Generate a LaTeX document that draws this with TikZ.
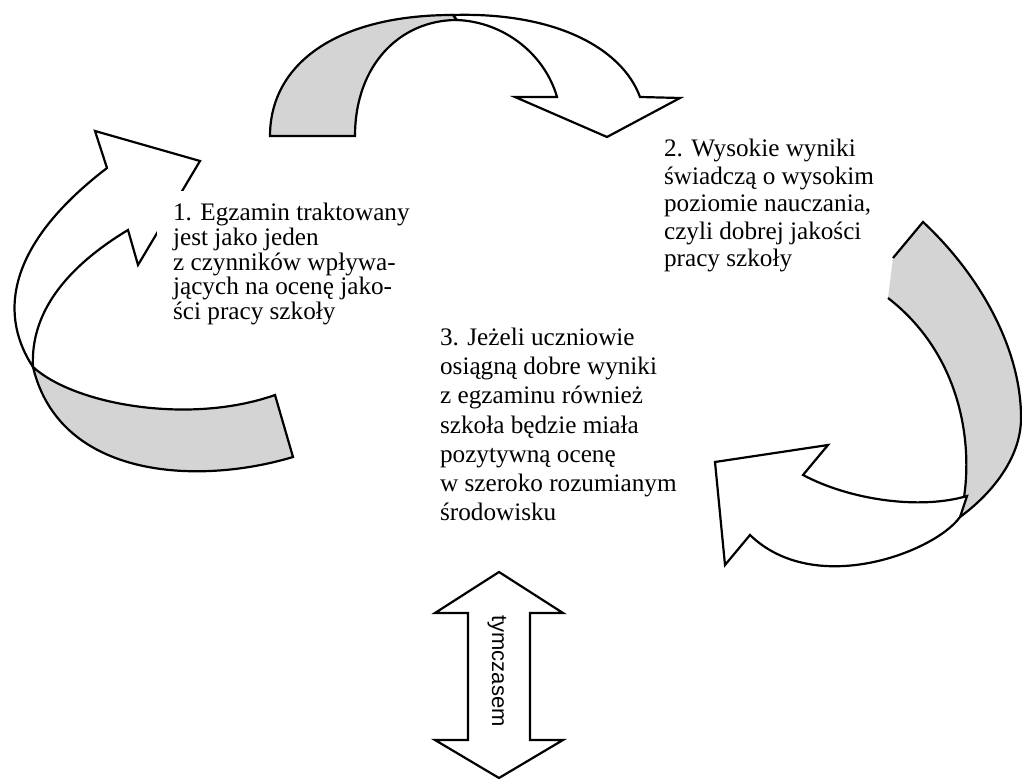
\documentclass[tikz,border=0pt]{standalone}
\usepackage{fontspec}
\setmainfont{Liberation Serif}
\newfontfamily\arialfont{Liberation Sans}

\begin{document}
\begin{tikzpicture}[x=0.5pt, y=-0.5pt, line width=1.1pt,
                    wstega/.style={fill=black!17, draw=black},
                    grot/.style={fill=white, draw=black},
                    opis/.style={align=left, anchor=north west, fill=white,
                                 inner xsep=8pt, inner ysep=6pt,
                                 font=\fontsize{12.6}{#1}\selectfont}]
  \useasboundingbox (0,0) rectangle (1022,779);

  % gorna strzalka
  \filldraw[wstega] (270,136) .. controls (270,65) and (335,15) .. (453,15)
      -- (457,20) .. controls (400,20) and (355,65) .. (355,136) -- cycle;
  \filldraw[grot] (453,15) .. controls (555,12) and (622,48) .. (640,97)
      -- (680,98) -- (607,137) -- (515,97) -- (557,97)
      .. controls (545,55) and (505,22) .. (457,20) -- cycle;

  % prawa strzalka
  \filldraw[wstega] (888,298) .. controls (968,360) and (975,460) .. (960,517)
      .. controls (990,495) and (1020,460) .. (1021,420)
      .. controls (1022,350) and (980,275) .. (923,222) -- (893,258);
  \filldraw[grot] (967,496) -- (960,517)
      .. controls (935,552) and (815,598) .. (750,535)
      -- (725,565) -- (715,462) -- (828,445) -- (803,475)
      .. controls (850,500) and (920,510) .. (967,496) -- cycle;

  % lewa strzalka
  \filldraw[wstega] (33,367) .. controls (75,405) and (190,425) .. (275,395)
      -- (293,457) .. controls (200,485) and (60,480) .. (33,367) -- cycle;
  \filldraw[grot] (33,367) .. controls (2,320) and (0,250) .. (107,168)
      -- (95,131) -- (200,161) -- (138,265) -- (128,230)
      .. controls (70,265) and (30,310) .. (33,367) -- cycle;

  % tymczasem
  \filldraw[grot] (499,572) -- (563,613) -- (530,613) -- (530,740) -- (563,740)
      -- (499,778) -- (435,740) -- (468,740) -- (468,613) -- (435,613) -- cycle;
  \node (tymczasem) [rotate=-90, font=\arialfont\fontsize{11}{13}\selectfont]
      at (497,671) {tymczasem};

  \node (krok1) [opis=12.4pt] at (156,190)
      {1. Egzamin traktowany\\jest jako jeden\\z czynników wpływa-\\jących na ocenę jako-\\ści pracy szkoły};
  \node (krok2) [opis=13.75pt] at (647,126)
      {2. Wysokie wyniki\\świadczą o wysokim\\poziomie nauczania,\\czyli dobrej jakości\\pracy szkoły};
  \node (krok3) [opis=14.6pt] at (423,315)
      {3. Jeżeli uczniowie\\osiągną dobre wyniki\\z egzaminu również\\szkoła będzie miała\\pozytywną ocenę\\w szeroko rozumianym\\środowisku};
\end{tikzpicture}
\end{document}
